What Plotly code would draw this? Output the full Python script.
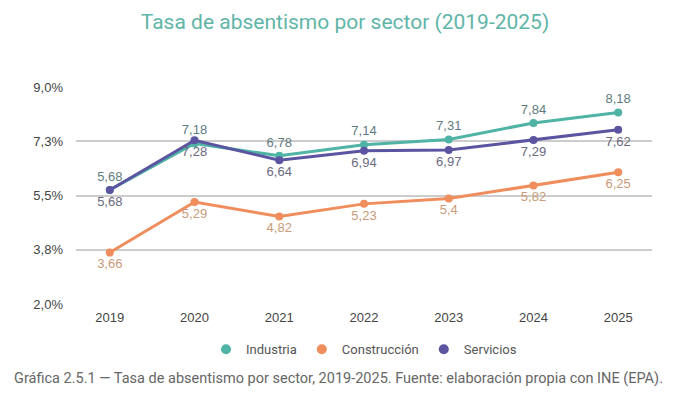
import plotly.graph_objects as go

years = ["2019", "2020", "2021", "2022", "2023", "2024", "2025"]
industria = [5.68, 7.18, 6.78, 7.14, 7.31, 7.84, 8.18]
construccion = [3.66, 5.29, 4.82, 5.23, 5.4, 5.82, 6.25]
servicios = [5.68, 7.28, 6.64, 6.94, 6.97, 7.29, 7.62]
y_ticks = [2.0, 3.75, 5.5, 7.25, 9.0]
y_tick_labels = ["2,0%", "3,8%", "5,5%", "7,3%", "9,0%"]


def fmt(vals):
    return [("%g" % v).replace(".", ",") for v in vals]


series = [
    ("Industria", industria, "#4fb3a5", "#5f7b82", "top center"),
    ("Construcción", construccion, "#ef8d5d", "#c99b79", "bottom center"),
    ("Servicios", servicios, "#5b55a1", "#6b6a80", "bottom center"),
]

fig = go.Figure()
for name, vals, color, tcolor, pos in series:
    fig.add_trace(go.Scatter(
        x=years, y=vals, name=name, mode="lines+markers+text",
        line=dict(color=color, width=3),
        marker=dict(color=color, size=8),
        text=fmt(vals), textposition=pos,
        textfont=dict(family="Liberation Sans, Arial, sans-serif", size=13, color=tcolor),
        cliponaxis=False, showlegend=False,
    ))
# legend entries (marker-only symbols as in the reference)
for name, vals, color, tcolor, pos in series:
    fig.add_trace(go.Scatter(
        x=[None], y=[None], name=name, mode="markers",
        marker=dict(color=color, size=10, symbol="circle"),
        showlegend=True,
    ))

fig.update_layout(
    width=690, height=401,
    margin=dict(l=76, r=38, t=87, b=97),
    paper_bgcolor="white", plot_bgcolor="white",
    title=dict(text="Tasa de absentismo por sector (2019-2025)",
               x=0.5, xanchor="center", y=0.945, yanchor="middle",
               font=dict(family="Roboto, sans-serif", size=21, color="#5fb5a8")),
    xaxis=dict(type="category", showgrid=False, zeroline=False, showline=False,
               ticks="", ticklabelstandoff=4,
               tickfont=dict(family="Liberation Sans, Arial, sans-serif", size=13, color="#444")),
    yaxis=dict(range=[2, 9], tickvals=y_ticks, ticktext=y_tick_labels,
               showgrid=True, gridcolor="#cccccc", gridwidth=1.5, zeroline=False,
               showline=False, ticks="", ticklabelstandoff=12,
               tickfont=dict(family="Liberation Sans, Arial, sans-serif", size=13, color="#444")),
    legend=dict(orientation="h", x=0.5, xanchor="center", y=-0.14, yanchor="top",
                font=dict(family="Roboto, sans-serif", size=13, color="#555"),
                itemwidth=30),
    showlegend=True,
)

fig.add_annotation(
    text="Gráfica 2.5.1 — Tasa de absentismo por sector, 2019-2025. Fuente: elaboración propia con INE (EPA).",
    xref="paper", yref="paper", x=-64/576, y=-0.345, xanchor="left", yanchor="middle",
    showarrow=False, font=dict(family="Roboto, sans-serif", size=14.5, color="#666"),
)

fig.write_html("out.html")
